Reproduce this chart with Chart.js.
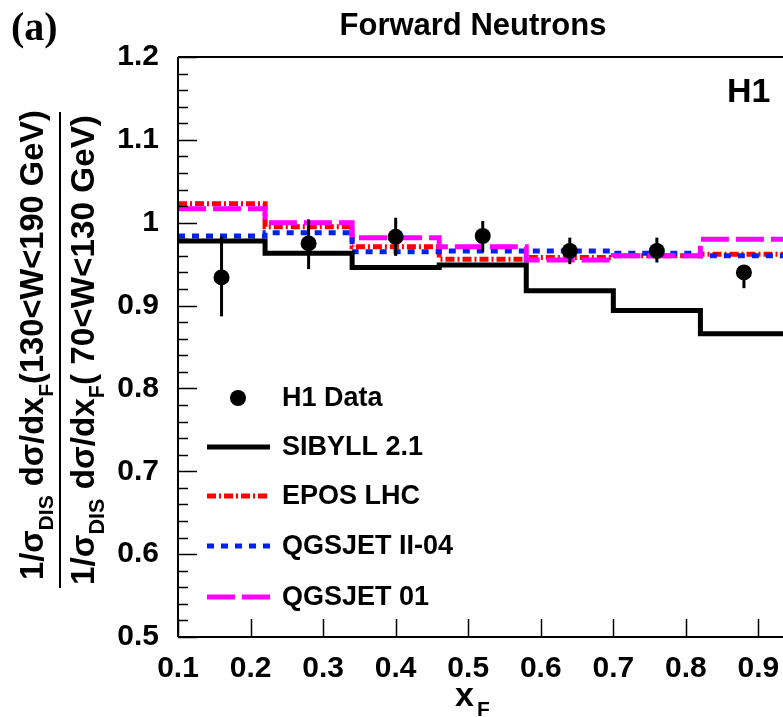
<!DOCTYPE html>
<html>
<head>
<meta charset="utf-8">
<script src="https://cdn.jsdelivr.net/npm/chart.js@4.4.0/dist/chart.umd.min.js"></script>
<style>
  html, body { margin: 0; padding: 0; background: #fff; overflow: hidden; }
  #wrap { width: 783px; height: 717px; overflow: hidden; }
</style>
</head>
<body>
<div id="wrap"><canvas id="chart" width="850" height="717"></canvas></div>
<script>
// bins in x_F and values
const binEdges = [0.10, 0.22, 0.34, 0.46, 0.58, 0.70, 0.82, 0.94];
const xCenters = [0.16, 0.28, 0.40, 0.52, 0.64, 0.76, 0.88];
const h1Data  = [0.934, 0.975, 0.983, 0.984, 0.966, 0.966, 0.940];
const h1ErrLo = [0.887, 0.944, 0.960, 0.965, 0.950, 0.952, 0.921];
const h1ErrHi = [0.983, 1.004, 1.006, 1.002, 0.982, 0.982, 0.947];
const sibyll  = [0.978, 0.963, 0.946, 0.949, 0.918, 0.894, 0.866];
const epos    = [1.023, 0.995, 0.971, 0.956, 0.958, 0.960, 0.962];
const qgsII   = [0.984, 0.988, 0.965, 0.966, 0.966, 0.963, 0.960];
const qgs01   = [1.017, 1.000, 0.982, 0.971, 0.955, 0.960, 0.980];
const xTicks = [0.1, 0.2, 0.3, 0.4, 0.5, 0.6, 0.7, 0.8, 0.9];
const yTicks = [0.5, 0.6, 0.7, 0.8, 0.9, 1.0, 1.1, 1.2];

const SANS = "'Liberation Sans', Arial, Helvetica, sans-serif";

function stepPoints(vals) {
  return binEdges.map((x, i) => ({ x, y: vals[Math.min(i, vals.length - 1)] }));
}

function stepSet(label, vals, color, dash, order) {
  return {
    label, data: stepPoints(vals), showLine: true, stepped: true,
    borderColor: color, backgroundColor: color, borderWidth: 5,
    borderDash: dash, pointRadius: 0, order
  };
}

const datasets = [
  {
    label: "H1 Data",
    data: xCenters.map((x, i) => ({ x, y: h1Data[i] })),
    showLine: false, pointRadius: 8, pointStyle: "circle",
    backgroundColor: "#000", borderColor: "#000", borderWidth: 0, order: 0
  },
  stepSet("SIBYLL 2.1", sibyll, "#000000", [], 1),
  stepSet("EPOS LHC", epos, "#ff0000", [9, 3, 2, 3], 4),
  stepSet("QGSJET II-04", qgsII, "#0022ee", [7, 7], 3),
  stepSet("QGSJET 01", qgs01, "#ff00ff", [28, 7], 2)
];

// axes frame + inner ticks, error bars, legend and texts
const decor = {
  id: "decor",
  afterDatasetsDraw(chart) {
    const { ctx, scales: { x, y } } = chart;
    ctx.save();
    ctx.strokeStyle = "#000";
    ctx.lineWidth = 3;
    xCenters.forEach((xc, i) => {
      const px = x.getPixelForValue(xc);
      ctx.beginPath();
      ctx.moveTo(px, y.getPixelForValue(h1ErrLo[i]));
      ctx.lineTo(px, y.getPixelForValue(h1ErrHi[i]));
      ctx.stroke();
    });
    ctx.restore();
  },
  afterDraw(chart) {
    const { ctx, chartArea: a, scales: { x, y } } = chart;
    ctx.save();
    ctx.strokeStyle = "#000";
    // frame
    ctx.lineWidth = 2;
    ctx.beginPath();
    ctx.moveTo(a.left, a.top); ctx.lineTo(a.right, a.top);
    ctx.moveTo(a.left, a.top); ctx.lineTo(a.left, a.bottom);
    ctx.moveTo(a.left, a.bottom); ctx.lineTo(a.right, a.bottom);
    ctx.stroke();
    ctx.lineWidth = 1.5;
    ctx.beginPath();
    for (let v = 0.5; v <= 1.2001; v += 0.02) {
      const py = Math.round(y.getPixelForValue(v)) + 0.5;
      const major = Math.abs(v * 10 - Math.round(v * 10)) < 1e-6;
      ctx.moveTo(a.left, py); ctx.lineTo(a.left + (major ? 19 : 10), py);
    }
    xTicks.forEach(v => {
      const px = Math.round(x.getPixelForValue(v)) + 0.5;
      ctx.moveTo(px, a.bottom); ctx.lineTo(px, a.bottom - 18);
    });
    ctx.stroke();

    // legend
    const rows = [398, 447, 496, 546, 597];
    ctx.font = "bold 27px " + SANS;
    ctx.textBaseline = "middle";
    ctx.textAlign = "left";
    chart.data.datasets.forEach((ds, r) => {
      const ry = rows[r];
      if (!ds.showLine) {
        ctx.fillStyle = ds.backgroundColor;
        ctx.beginPath(); ctx.arc(238, ry, ds.pointRadius, 0, Math.PI * 2); ctx.fill();
      } else {
        ctx.strokeStyle = ds.borderColor;
        ctx.lineWidth = ds.borderWidth;
        ctx.setLineDash(ds.borderDash);
        ctx.beginPath(); ctx.moveTo(207, ry); ctx.lineTo(270, ry); ctx.stroke();
        ctx.setLineDash([]);
      }
      ctx.fillStyle = "#000";
      ctx.fillText(ds.label, 282, ry + 1);
    });

    // titles
    ctx.textBaseline = "alphabetic";
    ctx.fillStyle = "#000";
    ctx.font = "bold 31px " + SANS;
    ctx.textAlign = "center";
    ctx.fillText("Forward Neutrons", 473, 35);
    ctx.font = "bold 40px 'Liberation Serif', 'DejaVu Serif', serif";
    ctx.textAlign = "left";
    ctx.fillText("(a)", 11, 40);
    ctx.font = "bold 34px " + SANS;
    ctx.fillText("H1", 727, 102);

    // x title
    ctx.font = "bold 34px " + SANS;
    ctx.fillText("x", 455, 706);
    ctx.font = "bold 21px " + SANS;
    ctx.fillText("F", 477, 716);

    // y title (fraction, rotated)
    const num = [["1/σ", 0], ["DIS", 1], [" dσ/dx", 0], ["F", 1], ["(130<W<190 GeV)", 0]];
    const den = [["1/σ", 0], ["DIS", 1], [" dσ/dx", 0], ["F", 1], ["( 70<W<130 GeV)", 0]];
    drawRotated(ctx, num, 43, 345, 470);
    drawRotated(ctx, den, 94, 350, 470);
    ctx.lineWidth = 2;
    ctx.strokeStyle = "#000";
    ctx.beginPath(); ctx.moveTo(60, 112); ctx.lineTo(60, 588); ctx.stroke();
    ctx.restore();
  }
};

function drawRotated(ctx, segs, baseX, centerY, targetLen) {
  let main = 34, sub = 22;
  const widthAt = (m, s) => segs.reduce((w, [t, isSub]) => {
    ctx.font = "bold " + (isSub ? s : m) + "px " + SANS;
    return w + ctx.measureText(t).width;
  }, 0);
  const k = targetLen / widthAt(main, sub);
  main *= k; sub *= k;
  const total = widthAt(main, sub);
  ctx.save();
  ctx.translate(baseX, centerY);
  ctx.rotate(-Math.PI / 2);
  ctx.fillStyle = "#000";
  ctx.textAlign = "left";
  ctx.textBaseline = "alphabetic";
  let cx = -total / 2;
  segs.forEach(([t, isSub]) => {
    ctx.font = "bold " + (isSub ? sub : main) + "px " + SANS;
    ctx.fillText(t, cx, isSub ? 10 : 0);
    cx += ctx.measureText(t).width;
  });
  ctx.restore();
}

new Chart(document.getElementById("chart"), {
  type: "scatter",
  data: { datasets },
  options: {
    responsive: false,
    animation: false,
    devicePixelRatio: 1,
    layout: { padding: { left: 0, top: 57, right: 19, bottom: 0 } },
    plugins: { legend: { display: false }, tooltip: { enabled: false } },
    scales: {
      x: {
        type: "linear", min: 0.1, max: 1.0,
        afterBuildTicks: s => { s.ticks = xTicks.map(v => ({ value: v })); },
        afterFit: s => { s.height = 80; },
        grid: { display: false }, border: { display: false },
        ticks: {
          padding: 6, color: "#000", maxRotation: 0, autoSkip: false,
          font: { family: SANS, size: 30, weight: "bold" },
          callback: v => (+v).toFixed(1)
        }
      },
      y: {
        type: "linear", min: 0.5, max: 1.2,
        afterBuildTicks: s => { s.ticks = yTicks.map(v => ({ value: v })); },
        afterFit: s => { s.width = 178; },
        grid: { display: false }, border: { display: false },
        ticks: {
          padding: 11, color: "#000", autoSkip: false,
          font: { family: SANS, size: 30, weight: "bold" },
          callback: v => String(+(+v).toFixed(1))
        }
      }
    }
  },
  plugins: [decor]
});
</script>
</body>
</html>
